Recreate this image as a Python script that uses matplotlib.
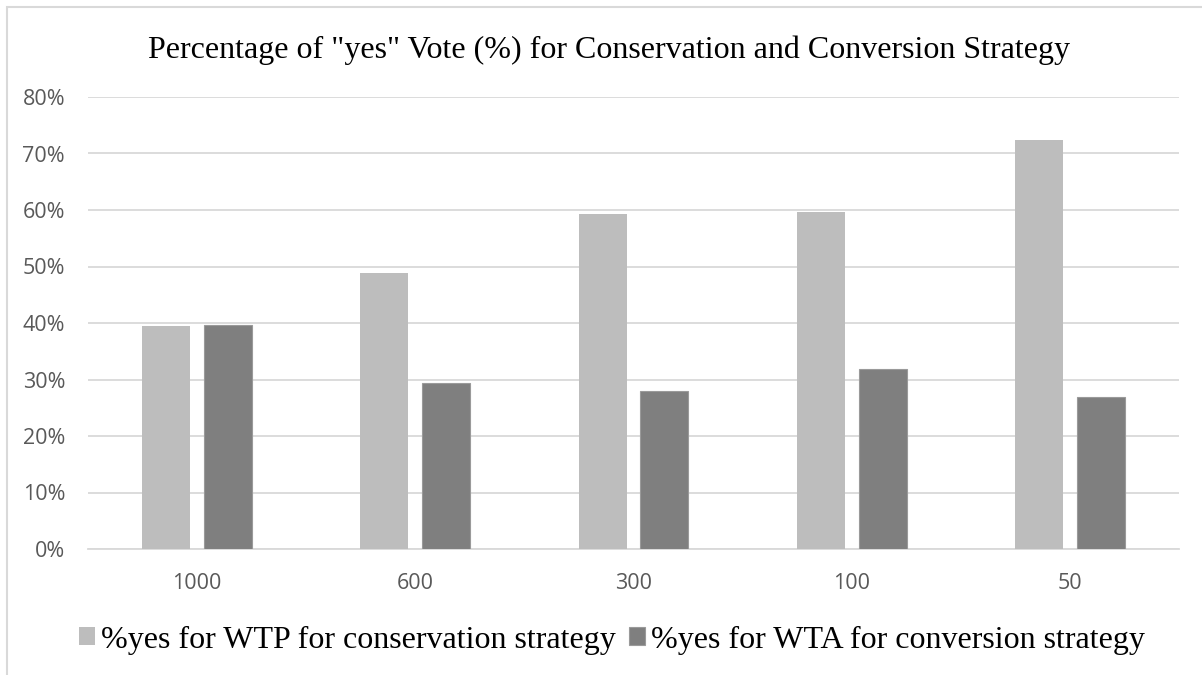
import matplotlib.pyplot as plt
import matplotlib.patches as mpatches
import numpy as np

categories = ["1000", "600", "300", "100", "50"]
wtp_yes = [0.395, 0.488, 0.593, 0.597, 0.724]
wta_yes = [0.397, 0.293, 0.280, 0.319, 0.269]
series_names = [
    "%yes for WTP for conservation strategy",
    "%yes for WTA for conversion strategy",
]
title = 'Percentage of "yes" Vote (%) for Conservation and Conversion Strategy'

fig = plt.figure(figsize=(12.02, 6.75), dpi=100)
ax = fig.add_axes([88 / 1202, 126 / 675, 1091 / 1202, 452 / 675])

# outer chart frame (only top/left visible in the crop)
fig.patches.append(
    mpatches.Rectangle(
        (7 / 1202, -0.1), 1.2, 1 - 7 / 675 + 0.1,
        transform=fig.transFigure, fill=False, edgecolor="#d9d9d9", linewidth=1.5,
    )
)

x = np.arange(len(categories))
width = 0.22
offset = 0.142
ax.bar(x - offset, wtp_yes, width, color="#bdbdbd", label=series_names[0], zorder=3)
ax.bar(x + offset, wta_yes, width, color="#7f7f7f", edgecolor="#9a9a9a",
       linewidth=0.8, label=series_names[1], zorder=3)

ax.set_xlim(-0.5, len(categories) - 0.5)
ax.set_ylim(0, 0.8)
ax.set_yticks(np.arange(0, 0.81, 0.1))
ax.set_yticklabels([f"{int(round(v * 100))}%" for v in np.arange(0, 0.81, 0.1)])
ax.set_xticks(x)
ax.set_xticklabels(categories)

ax.grid(axis="y", color="#d9d9d9", linewidth=1.3, zorder=0)
for side in ["top", "right", "left"]:
    ax.spines[side].set_visible(False)
ax.spines["bottom"].set_color("#d9d9d9")
ax.spines["bottom"].set_linewidth(1.3)
ax.tick_params(axis="both", length=0, labelsize=15.5, labelcolor="#595959")
ax.tick_params(axis="x", pad=17.5)
ax.tick_params(axis="y", pad=16.5)
for lab in ax.get_xticklabels() + ax.get_yticklabels():
    lab.set_family("Open Sans")

fig.text(0.507, 1 - 50 / 675, title, ha="center", va="center",
         fontsize=23, family="Liberation Serif")

fig.legend(loc="center", bbox_to_anchor=(0.509, 1 - 640 / 675), ncol=2,
           frameon=False, prop={"family": "Liberation Serif", "size": 23},
           handlelength=0.5, handleheight=0.5, handletextpad=0.2, columnspacing=0.4)

fig.savefig("out.png", dpi=100)
